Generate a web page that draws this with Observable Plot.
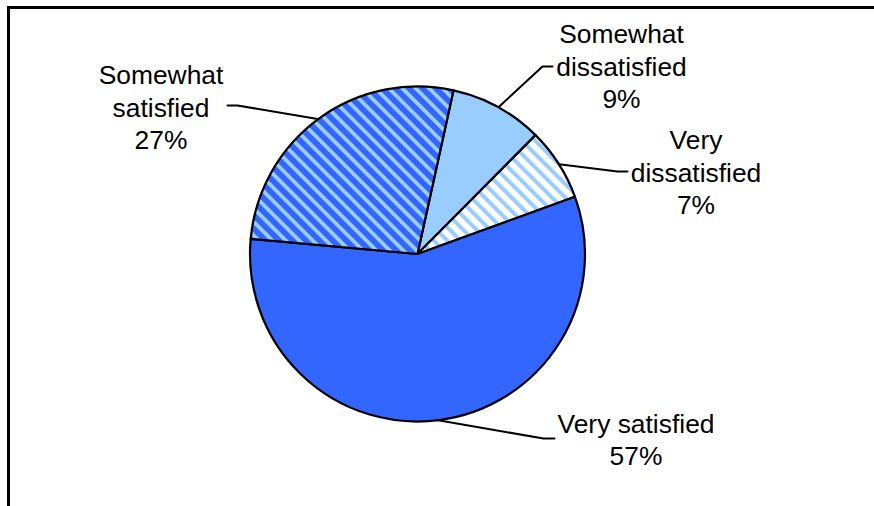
<!DOCTYPE html>
<html><head><meta charset="utf-8">
<script src="https://cdn.jsdelivr.net/npm/d3@7"></script>
<script src="https://cdn.jsdelivr.net/npm/@observablehq/plot@0.6"></script>
<style>
body{margin:0;background:#fff;}
#wrap{position:relative;width:874px;height:506px;overflow:hidden;background:#fff;}
#wrap svg{position:absolute;left:0;top:0;}
#frame{position:absolute;left:7px;top:6px;width:900px;height:600px;border-top:3px solid #000;border-left:3px solid #000;pointer-events:none;}
</style></head><body><div id="wrap"></div>
<script>
// ---- data ----
const categories = ["Somewhat dissatisfied", "Very dissatisfied", "Very satisfied", "Somewhat satisfied"];
const labelLines = [["Somewhat", "dissatisfied"], ["Very", "dissatisfied"], ["Very satisfied"], ["Somewhat", "satisfied"]];
const values = [9, 7, 57, 27];

// ---- layout / style (kept apart from the data) ----
const fills = ["#99CCFF", "url(#pat-vd)", "#3366FF", "url(#pat-ss)"];
const center = [417.5, 254], radius = 167.5, startDeg = 12.4;
const labelAt = [[621, 64.7], [695.5, 170.7], [635.5, 438.5], [160.5, 105.7]];
const leaderEnd = [[552, 66], [627, 171], [554, 438], [227, 105]];
const elbowDx = [-10, -10, -11, 10];

const a0 = startDeg * Math.PI / 180;
const arcs = d3.pie().sort(null).value(d => d).startAngle(a0).endAngle(a0 + 2 * Math.PI)(values);

const leaders = arcs.flatMap((a, i) => {
  const m = (a.startAngle + a.endAngle) / 2;
  const p0 = {i, x: center[0] + radius * Math.sin(m), y: center[1] - radius * Math.cos(m)};
  const e = leaderEnd[i];
  return [p0, {i, x: e[0] + elbowDx[i], y: e[1]}, {i, x: e[0], y: e[1]}];
});

const labels = categories.map((c, i) => ({
  x: labelAt[i][0], y: labelAt[i][1],
  text: labelLines[i].join("\n") + "\n" + values[i] + "%"
}));

function pieMark(index, scales) {
  const {x, y} = scales;
  const g = d3.create("svg:g");
  const defs = g.append("defs");
  const P = 9.5;
  const p1 = defs.append("pattern").attr("id", "pat-ss").attr("patternUnits", "userSpaceOnUse")
    .attr("width", P).attr("height", P).attr("patternTransform", "rotate(-45)");
  p1.append("rect").attr("width", P).attr("height", P).attr("fill", "#3366FF");
  p1.append("rect").attr("width", 3.8).attr("height", P).attr("fill", "#99CCFF");
  const p2 = defs.append("pattern").attr("id", "pat-vd").attr("patternUnits", "userSpaceOnUse")
    .attr("width", P).attr("height", P).attr("patternTransform", "rotate(-45)");
  p2.append("rect").attr("width", P).attr("height", P).attr("fill", "#FFFFFF");
  p2.append("rect").attr("width", 4).attr("height", P).attr("fill", "#99CCFF");
  const cx = x(center[0]), cy = y(center[1]);
  const r = x(center[0] + radius) - cx;
  const arc = d3.arc().innerRadius(0).outerRadius(r);
  g.append("g").attr("transform", `translate(${cx},${cy})`)
    .selectAll("path").data(arcs).join("path")
    .attr("d", arc)
    .attr("fill", (d, i) => fills[i])
    .attr("stroke", "#000").attr("stroke-width", 2.2).attr("stroke-linejoin", "round");
  return g.node();
}

const chart = Plot.plot({
  width: 874, height: 506,
  margin: 0,
  x: {domain: [0, 874], range: [0, 874], axis: null},
  y: {domain: [0, 506], range: [0, 506], axis: null},
  style: {fontFamily: "'Liberation Sans', Arial, sans-serif", background: "#fff"},
  marks: [
    Plot.line(leaders, {x: "x", y: "y", z: "i", stroke: "#000", strokeWidth: 2}),
    pieMark,
    Plot.text(labels, {x: "x", y: "y", text: "text", fontSize: 26.4, lineHeight: 1.22,
      textAnchor: "middle", lineAnchor: "middle", fill: "#000"})
  ]
});
const wrap = document.getElementById("wrap");
wrap.appendChild(chart);
const frame = document.createElement("div");
frame.id = "frame";
wrap.appendChild(frame);
</script>
</body></html>
